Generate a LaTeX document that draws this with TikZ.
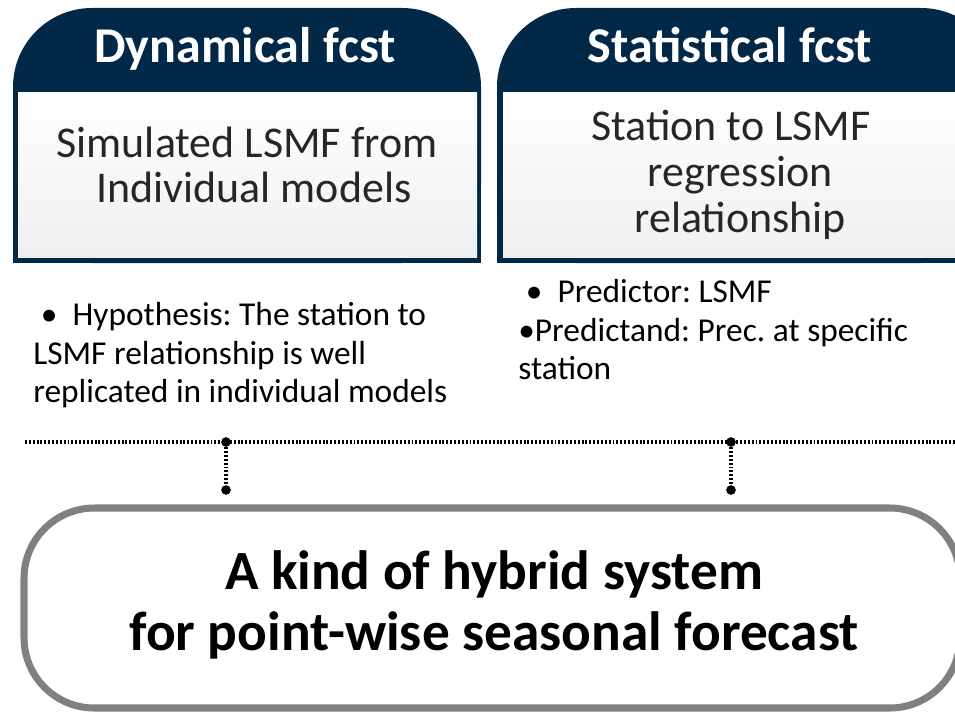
\documentclass[tikz,border=0pt]{standalone}
\usepackage{fontspec}
\setmainfont{Carlito}
\usetikzlibrary{positioning}
\definecolor{navy}{RGB}{2,40,72}
\definecolor{boxgray}{RGB}{128,128,128}
\frenchspacing
\tikzset{
  head/.style = {text=white, font=\fontsize{28.5}{30}\selectfont\bfseries, anchor=base},
  body/.style = {text=black!85, align=center, font=\fontsize{25}{26}\selectfont},
  bullets/.style = {align=left, anchor=north west, inner sep=0pt, font=\fontsize{19}{22}\selectfont},
  dot/.style = {circle, fill=black, inner sep=0pt, minimum size=5.5pt},
  dotline/.style = {line width=1.8pt, dash pattern=on 1.1pt off 1.1pt},
}

\begin{document}
\begin{tikzpicture}[x=0.02cm, y=-0.02cm]
\clip (0,0) rectangle (955,713);
\fill[white] (0,0) rectangle (955,713);
% header cards
\fill[navy, rounded corners=45] (13,8) rectangle (481,263);
\fill[navy] (13,150) rectangle (481,263);
\shade[top color=white, bottom color=black!6] (18,92) rectangle (477,257);
\fill[navy, rounded corners=45] (497,8) rectangle (1000,263);
\fill[navy] (497,150) rectangle (1000,263);
\shade[top color=white, bottom color=black!6] (503,92) rectangle (1000,257);
\node[head] (dynhead) at (245,63) {Dynamical fcst};
\node[head] (stathead) at (730,63) {Statistical fcst};
\node[body] (dynbody) at (247,165) {Simulated LSMF from\\ \hspace*{20\pgflinewidth}Individual models};
\node[body] (statbody) at (731,175) {Station to LSMF\\ \hspace*{26\pgflinewidth}regression\\ \hspace*{26\pgflinewidth}relationship};
% bullet notes
\node[bullets] (dynnote) at (33,302) {\ \textbullet\ \ Hypothesis: The station to\\LSMF relationship is well\\replicated in individual models};
\node[bullets] (statnote) at (518,279) {\ \textbullet\ \ Predictor: LSMF\\ \textbullet Predictand: Prec. at specific\\station};
% dotted links
\coordinate (lineL) at (25,442);
\coordinate (lineR) at (960,442);
\draw[dotline] (lineL) -- (lineR);
\node[dot] (dtop1) at (226,442) {};
\node[dot] (dbot1) at (226,490) {};
\node[dot] (dtop2) at (731,442) {};
\node[dot] (dbot2) at (731,490) {};
\draw[dotline] (dtop1) -- (dbot1);
\draw[dotline] (dtop2) -- (dbot2);
% result box
\draw[boxgray, line width=4pt, rounded corners=40] (24,508) rectangle (960,708);
\node[align=center, font=\fontsize{31.5}{35}\selectfont\bfseries] (hybrid) at (494,605)
  {A kind of hybrid system\\ for point-wise seasonal forecast};
\end{tikzpicture}
\end{document}
